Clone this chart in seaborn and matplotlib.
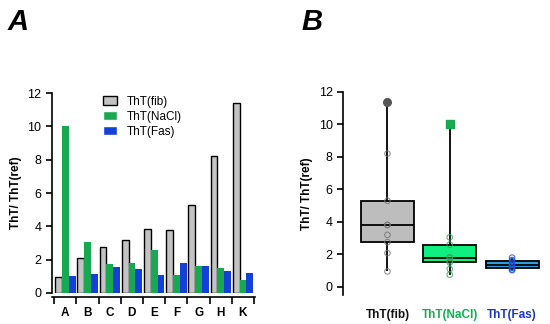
import matplotlib
matplotlib.use("Agg")
import matplotlib.pyplot as plt
import seaborn as sns
import pandas as pd
from matplotlib.patches import Patch

# data
samples = ["A", "B", "C", "D", "E", "F", "G", "H", "K"]
tht_fib = [0.95, 2.08, 2.75, 3.2, 3.82, 3.8, 5.3, 8.2, 11.4]
tht_nacl = [10.05, 3.05, 1.77, 1.83, 2.6, 1.1, 1.6, 1.5, 0.75]
tht_fas = [1.03, 1.17, 1.58, 1.42, 1.07, 1.8, 1.65, 1.33, 1.2]
series = ["ThT(fib)", "ThT(NaCl)", "ThT(Fas)"]

bar_colors = ["#c3c3c3", "#18a850", "#1240d8"]
box_colors = ["#bdbdbd", "#10f080", "#2a9ee0"]
point_colors = ["#777777", "#3aa060", "#2050d0"]
label_colors = ["#111111", "#12b050", "#1a38c8"]

df = pd.DataFrame({
    "sample": samples * 3,
    "series": [s for s in series for _ in samples],
    "value": tht_fib + tht_nacl + tht_fas,
})

sns.set_style("ticks")
plt.rcParams["font.family"] = ["Liberation Sans", "DejaVu Sans"]
for k in ["text.color", "axes.labelcolor", "xtick.color", "ytick.color",
          "axes.edgecolor"]:
    plt.rcParams[k] = "black"

fig = plt.figure(figsize=(5.5, 3.24), dpi=100)

# -------------------------------
# A. grouped bars
# -------------------------------
ax1 = fig.add_axes([0.0945, 0.0957, 0.3695, 0.617])
sns.barplot(data=df, x="sample", y="value", hue="series", order=samples,
            hue_order=series, palette=bar_colors, width=0.92, gap=0,
            saturation=1, ax=ax1, legend=False)
n = len(samples)
for i, p in enumerate(ax1.patches[:3 * n]):
    if i < n:
        p.set_edgecolor("black")
        p.set_linewidth(1.0)
    else:
        p.set_linewidth(0)
# spine position resets ticks, so set it before styling the labels
ax1.spines["bottom"].set_position(("outward", 3))
for s in ["left", "bottom"]:
    ax1.spines[s].set_linewidth(1.2)
sns.despine(ax=ax1)
ax1.set_xlim(-0.6, n - 0.45)
ax1.set_ylim(0, 12)
ax1.set_yticks(range(0, 13, 2))
ax1.set_xticks(range(n))
ax1.set_xticklabels(samples, fontweight="bold", fontsize=8.5)
ax1.set_xticks([i + 0.5 for i in range(-1, n)], minor=True)
ax1.tick_params(axis="x", which="major", length=0, pad=7)
ax1.tick_params(axis="x", which="minor", length=5, width=1.2)
ax1.tick_params(axis="y", length=4, width=1.2, labelsize=9)
ax1.set_xlabel("")
ax1.set_ylabel("ThT/ ThT(ref)", fontweight="bold", fontsize=8.5)

handles = [Patch(facecolor=bar_colors[0], edgecolor="black", linewidth=1.0),
           Patch(facecolor=bar_colors[1]), Patch(facecolor=bar_colors[2])]
ax1.legend(handles, series, loc="upper left", bbox_to_anchor=(0.2, 1.04),
           frameon=False, fontsize=8.5, handlelength=1.2, handleheight=0.7,
           labelspacing=0.25, handletextpad=0.8)

fig.text(0.013, 0.907, "A", fontsize=21, fontweight="bold", style="italic",
         va="baseline")

# -------------------------------
# B. box plot
# -------------------------------
ax2 = fig.add_axes([0.624, 0.0895, 0.358, 0.627])
sns.boxplot(data=df, x="series", y="value", hue="series", order=series,
            hue_order=series, palette=box_colors, width=0.85, whis=(0, 100),
            showfliers=False, showcaps=False, saturation=1, linecolor="black",
            linewidth=1.3, legend=False, ax=ax2)
for i, s in enumerate(series):
    vals = df.loc[df["series"] == s, "value"]
    ax2.scatter([i] * len(vals), vals, s=16, facecolors="none",
                edgecolors=point_colors[i], linewidths=0.8, alpha=0.8, zorder=4)
    if i < 2:
        ax2.scatter([i], [vals.max()], marker="o" if i == 0 else "s", s=30,
                    color=["#555555", "#18a850"][i], zorder=5)
ax2.spines["left"].set_bounds(-0.5, 12)
ax2.spines["left"].set_linewidth(1.2)
sns.despine(ax=ax2, bottom=True)
ax2.set_xlim(-0.71, 2.45)
ax2.set_ylim(-0.5, 12)
ax2.set_yticks(range(0, 13, 2))
ax2.tick_params(axis="y", length=4, width=1.2, labelsize=9)
ax2.tick_params(axis="x", length=0, pad=10)
ax2.set_xticks(range(3))
ax2.set_xticklabels(series, fontweight="bold", fontsize=8.5)
for lbl, c in zip(ax2.get_xticklabels(), label_colors):
    lbl.set_color(c)
ax2.set_xlabel("")
ax2.set_ylabel("ThT/ ThT(ref)", fontweight="bold", fontsize=8.5)

fig.text(0.548, 0.907, "B", fontsize=21, fontweight="bold", style="italic",
         va="baseline")

fig.savefig("out.png", dpi=100)
